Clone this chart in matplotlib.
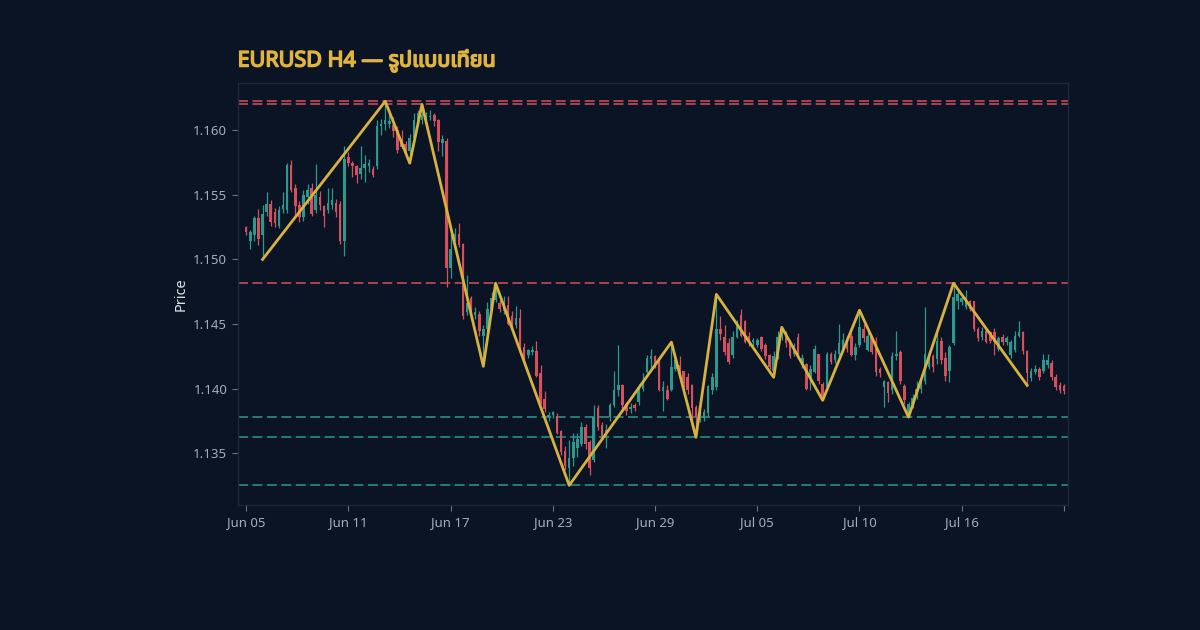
import numpy as np
import matplotlib
matplotlib.use('Agg')
import matplotlib.pyplot as plt
import matplotlib.patheffects as pe
from matplotlib import font_manager

# EURUSD H4 candles, one row per 4h bar (weekend gaps removed)
opens = [
    1.1525, 1.1514, 1.1519, 1.1532, 1.1519, 1.1537, 1.1543, 1.1537, 1.1526, 1.1539,
    1.1538, 1.1573, 1.1555, 1.1542, 1.1533, 1.1548, 1.1555, 1.1538, 1.1548, 1.1541,
    1.1538, 1.1542, 1.1544, 1.1543, 1.1514, 1.1579, 1.1575, 1.1572, 1.1566, 1.1571,
    1.1572, 1.1570, 1.1572, 1.1603, 1.1605, 1.1605, 1.1604, 1.1600, 1.1593, 1.1589,
    1.1584, 1.1594, 1.1606, 1.1608, 1.1610, 1.1610, 1.1612, 1.1608, 1.1590, 1.1592,
    1.1493, 1.1516, 1.1520, 1.1512, 1.1459, 1.1470, 1.1457, 1.1458, 1.1441, 1.1446,
    1.1462, 1.1469, 1.1466, 1.1460, 1.1465, 1.1456, 1.1449, 1.1455, 1.1432, 1.1426,
    1.1428, 1.1429, 1.1412, 1.1392, 1.1378, 1.1380, 1.1379, 1.1367, 1.1352, 1.1339,
    1.1346, 1.1354, 1.1357, 1.1370, 1.1359, 1.1345, 1.1385, 1.1372, 1.1363, 1.1378,
    1.1387, 1.1399, 1.1403, 1.1388, 1.1384, 1.1387, 1.1390, 1.1400, 1.1413, 1.1423,
    1.1425, 1.1421, 1.1398, 1.1399, 1.1399, 1.1415, 1.1418, 1.1414, 1.1409, 1.1403,
    1.1386, 1.1377, 1.1377, 1.1381, 1.1399, 1.1401, 1.1446, 1.1440, 1.1435, 1.1426,
    1.1440, 1.1457, 1.1452, 1.1441, 1.1436, 1.1434, 1.1440, 1.1434, 1.1426, 1.1414,
    1.1424, 1.1440, 1.1444, 1.1436, 1.1427, 1.1440, 1.1418, 1.1419, 1.1408, 1.1413,
    1.1427, 1.1404, 1.1401, 1.1427, 1.1422, 1.1427, 1.1430, 1.1437, 1.1441, 1.1426,
    1.1434, 1.1446, 1.1430, 1.1440, 1.1437, 1.1415, 1.1401, 1.1405, 1.1399, 1.1425,
    1.1428, 1.1402, 1.1381, 1.1388, 1.1394, 1.1400, 1.1406, 1.1417, 1.1425, 1.1423,
    1.1437, 1.1424, 1.1414, 1.1435, 1.1468, 1.1467, 1.1463, 1.1468, 1.1468, 1.1446,
    1.1440, 1.1445, 1.1444, 1.1444, 1.1431, 1.1440, 1.1436, 1.1426, 1.1430, 1.1441,
    1.1444, 1.1429, 1.1408, 1.1413, 1.1415, 1.1414, 1.1418, 1.1420, 1.1409, 1.1403,
    1.1402,
]
highs = [
    1.1526, 1.1523, 1.1534, 1.1539, 1.1542, 1.1552, 1.1546, 1.1540, 1.1541, 1.1552,
    1.1575, 1.1577, 1.1558, 1.1545, 1.1554, 1.1558, 1.1559, 1.1574, 1.1553, 1.1542,
    1.1555, 1.1555, 1.1547, 1.1545, 1.1588, 1.1583, 1.1576, 1.1573, 1.1588, 1.1581,
    1.1578, 1.1572, 1.1608, 1.1609, 1.16224, 1.1614, 1.1610, 1.1603, 1.1600, 1.1592,
    1.1597, 1.1613, 1.1616, 1.1620, 1.1614, 1.1616, 1.1613, 1.1609, 1.1596, 1.1594,
    1.1524, 1.1524, 1.1528, 1.1513, 1.1488, 1.1472, 1.1463, 1.1460, 1.1449, 1.1467,
    1.1475, 1.14816, 1.1469, 1.1472, 1.1472, 1.1460, 1.1464, 1.1462, 1.1435, 1.1431,
    1.1433, 1.1437, 1.1418, 1.1398, 1.1382, 1.1383, 1.1381, 1.1368, 1.1356, 1.1360,
    1.1366, 1.1366, 1.1374, 1.1373, 1.1360, 1.1387, 1.1387, 1.1374, 1.1373, 1.1389,
    1.1414, 1.1434, 1.1404, 1.1390, 1.1389, 1.1389, 1.1404, 1.1412, 1.1426, 1.1431,
    1.1426, 1.1422, 1.1406, 1.1403, 1.1436, 1.1426, 1.1425, 1.1414, 1.1412, 1.1404,
    1.1387, 1.1383, 1.1384, 1.1403, 1.1412, 1.1473, 1.1456, 1.1449, 1.1439, 1.1445,
    1.1453, 1.1462, 1.1453, 1.1444, 1.1439, 1.1439, 1.1441, 1.1435, 1.1427, 1.1429,
    1.1445, 1.14475, 1.1445, 1.1438, 1.1435, 1.1443, 1.1427, 1.1420, 1.1418, 1.1434,
    1.1427, 1.1405, 1.1428, 1.1428, 1.1430, 1.1450, 1.1443, 1.1441, 1.1443, 1.1435,
    1.14607, 1.1450, 1.1445, 1.1441, 1.1440, 1.1417, 1.1407, 1.1406, 1.1428, 1.1445,
    1.1430, 1.1404, 1.1390, 1.1396, 1.1406, 1.1408, 1.1463, 1.1429, 1.1427, 1.1443,
    1.1440, 1.1428, 1.1434, 1.14816, 1.1476, 1.1474, 1.1476, 1.1469, 1.1468, 1.1448,
    1.1448, 1.1447, 1.1445, 1.1447, 1.1441, 1.1442, 1.1441, 1.1438, 1.1445, 1.1452,
    1.1445, 1.1430, 1.1416, 1.1418, 1.1417, 1.1427, 1.1427, 1.1422, 1.1411, 1.1405,
    1.1404,
]
lows = [
    1.1519, 1.1508, 1.1514, 1.1511, 1.1500, 1.1534, 1.1526, 1.1525, 1.1524, 1.1536,
    1.1536, 1.1552, 1.1534, 1.1529, 1.1530, 1.1543, 1.1534, 1.1536, 1.1538, 1.1525,
    1.1536, 1.1539, 1.1533, 1.1512, 1.1503, 1.1572, 1.1564, 1.1559, 1.1562, 1.1560,
    1.1568, 1.1564, 1.1570, 1.1596, 1.1600, 1.1602, 1.1595, 1.1582, 1.1586, 1.1582,
    1.15745, 1.1592, 1.1603, 1.1605, 1.1607, 1.1608, 1.1603, 1.1584, 1.1580, 1.1479,
    1.1486, 1.1514, 1.1510, 1.1454, 1.1457, 1.1454, 1.1454, 1.1441, 1.14173, 1.1441,
    1.1461, 1.1467, 1.1459, 1.1458, 1.1449, 1.1446, 1.1447, 1.1431, 1.1420, 1.1424,
    1.1426, 1.1409, 1.1388, 1.1382, 1.1375, 1.1377, 1.1365, 1.1349, 1.1337, 1.13252,
    1.1340, 1.1347, 1.1356, 1.1353, 1.1333, 1.1343, 1.1368, 1.1361, 1.1354, 1.1375,
    1.1386, 1.1394, 1.1385, 1.1380, 1.1381, 1.1383, 1.1387, 1.1398, 1.1412, 1.1416,
    1.1416, 1.1398, 1.1383, 1.1391, 1.1398, 1.1414, 1.1410, 1.1401, 1.1396, 1.1373,
    1.13624, 1.1374, 1.1375, 1.1379, 1.1396, 1.1399, 1.1438, 1.1426, 1.1419, 1.1424,
    1.1439, 1.1440, 1.1435, 1.1433, 1.1433, 1.1432, 1.1429, 1.1423, 1.1415, 1.14088,
    1.1423, 1.1438, 1.1432, 1.1424, 1.1425, 1.1423, 1.1416, 1.1399, 1.1399, 1.1412,
    1.1404, 1.1391, 1.1399, 1.1419, 1.1420, 1.1425, 1.1429, 1.1428, 1.1425, 1.1422,
    1.1432, 1.1436, 1.1429, 1.1427, 1.1410, 1.1409, 1.1386, 1.1390, 1.1396, 1.1422,
    1.1404, 1.1388, 1.1378, 1.1385, 1.1392, 1.1397, 1.1404, 1.1415, 1.1413, 1.1419,
    1.1419, 1.1406, 1.1405, 1.1434, 1.1462, 1.1465, 1.1462, 1.1460, 1.1445, 1.1437,
    1.1438, 1.1435, 1.1435, 1.1426, 1.1429, 1.1434, 1.1434, 1.1424, 1.1428, 1.1440,
    1.1427, 1.14026, 1.1406, 1.1411, 1.1407, 1.1412, 1.1416, 1.1407, 1.1399, 1.1397,
    1.1396,
]
closes = [
    1.1521, 1.1521, 1.1532, 1.1516, 1.1535, 1.1543, 1.1529, 1.1528, 1.1538, 1.1542,
    1.1573, 1.1554, 1.1541, 1.1533, 1.1550, 1.1554, 1.1535, 1.1550, 1.1542, 1.1534,
    1.1544, 1.1546, 1.1537, 1.1514, 1.1578, 1.1575, 1.1572, 1.1565, 1.1571, 1.1574,
    1.1575, 1.1565, 1.1603, 1.1605, 1.1608, 1.1607, 1.1599, 1.1585, 1.1587, 1.1584,
    1.1594, 1.1608, 1.1613, 1.1612, 1.1612, 1.1611, 1.1607, 1.1591, 1.1593, 1.1493,
    1.1508, 1.1520, 1.1511, 1.1456, 1.1466, 1.1462, 1.1459, 1.1445, 1.1446, 1.1462,
    1.1470, 1.1477, 1.1462, 1.1464, 1.1450, 1.1449, 1.1455, 1.1434, 1.1423, 1.1430,
    1.1430, 1.1410, 1.1389, 1.1384, 1.1380, 1.1382, 1.1366, 1.1351, 1.1340, 1.1346,
    1.1359, 1.1361, 1.1370, 1.1357, 1.1339, 1.1378, 1.1370, 1.1363, 1.1368, 1.1387,
    1.1399, 1.1403, 1.1387, 1.1383, 1.1386, 1.1385, 1.1401, 1.1406, 1.1424, 1.1425,
    1.1418, 1.1399, 1.1401, 1.1392, 1.1417, 1.1422, 1.1412, 1.1404, 1.1399, 1.1385,
    1.1378, 1.1381, 1.1382, 1.1402, 1.1409, 1.1446, 1.1442, 1.1428, 1.1421, 1.1440,
    1.1450, 1.1441, 1.1436, 1.1435, 1.1438, 1.1438, 1.1431, 1.1425, 1.1417, 1.1425,
    1.1440, 1.1445, 1.1435, 1.1425, 1.1432, 1.1424, 1.1424, 1.1400, 1.1415, 1.1431,
    1.1406, 1.1394, 1.1427, 1.1421, 1.1427, 1.1435, 1.1438, 1.1431, 1.1426, 1.1432,
    1.1448, 1.1439, 1.1441, 1.1428, 1.1413, 1.1412, 1.1406, 1.1397, 1.1425, 1.1427,
    1.1406, 1.1391, 1.1388, 1.1393, 1.1400, 1.1403, 1.1427, 1.1425, 1.1417, 1.1437,
    1.1422, 1.1410, 1.1432, 1.1471, 1.1473, 1.1470, 1.1471, 1.1462, 1.1446, 1.1439,
    1.1445, 1.1436, 1.1437, 1.1436, 1.1439, 1.1436, 1.1439, 1.1436, 1.1441, 1.1444,
    1.1429, 1.1412, 1.1414, 1.1415, 1.1409, 1.1422, 1.1422, 1.1409, 1.1401, 1.1399,
    1.1398,
]

# zigzag swing points (bar index, H = swing high, L = swing low)
pivot_idx = [4, 34, 40, 43, 58, 61, 79, 104, 110, 115, 129, 131, 141, 150, 162, 173, 191]
pivot_kind = 'LHLHLHLHLHLHLHLHL'

resistance = [1.16224, 1.1620, 1.14816]
support = [1.1378, 1.13624, 1.13252]

date_labels = ['Jun 05', 'Jun 11', 'Jun 17', 'Jun 23', 'Jun 29', 'Jul 05', 'Jul 10', 'Jul 16', '']

BG = '#0b1424'
UP = '#2a9a8e'
DOWN = '#d64f5c'
GOLD = '#d8b23e'
TITLE = '#e0b43f'

# latin family first, a Thai family behind it for the Thai letters
installed = {f.name for f in font_manager.fontManager.ttflist}
thai = [n for n in ['Noto Sans Thai', 'Noto Sans Thai Looped', 'Loma', 'Garuda',
                    'Norasi', 'Sarabun', 'Kanit', 'Tlwg Typo'] if n in installed]
plt.rcParams['font.family'] = ['Noto Sans'] + thai + ['DejaVu Sans']

o = np.array(opens)
c = np.array(closes)
h = np.maximum(np.array(highs), np.maximum(o, c))
l = np.minimum(np.array(lows), np.minimum(o, c))
x = np.arange(len(c))
up = c >= o
colors = np.where(up, UP, DOWN)

fig = plt.figure(figsize=(12, 6.3), dpi=100, facecolor=BG)
ax = fig.add_axes([0.198, 0.198, 0.692, 0.67], facecolor=BG)

# support / resistance levels
for lv in resistance:
    ax.axhline(lv, color=DOWN, lw=1.3, ls=(0, (5.5, 2.5)), alpha=0.85, zorder=1)
for lv in support:
    ax.axhline(lv, color=UP, lw=1.3, ls=(0, (5.5, 2.5)), alpha=0.85, zorder=1)

# candles
ax.vlines(x, l, h, colors=colors, lw=0.9, zorder=2)
body = np.maximum(np.abs(c - o), 0.00003)
ax.bar(x, body, bottom=np.minimum(o, c), width=0.62, color=colors, lw=0, zorder=3)

# zigzag
zz_y = [h[i] if k == 'H' else l[i] for i, k in zip(pivot_idx, pivot_kind)]
ax.plot(pivot_idx, zz_y, color=GOLD, lw=2, zorder=4)

ax.set_xlim(-2.1, 201)
ax.set_ylim(1.13098, 1.16364)

ax.set_xticks(np.linspace(0, 200, len(date_labels)))
ax.set_xticklabels(date_labels)
yt = np.arange(1.135, 1.1601, 0.005)
ax.set_yticks(yt)
ax.set_yticklabels([f'{v:.3f}' for v in yt])

ax.tick_params(colors='#6b7687', labelcolor='#a3adbb', labelsize=9.5, length=4, width=0.8)
for s in ax.spines.values():
    s.set_color('#1d2838')
    s.set_linewidth(1)
ax.set_ylabel('Price', color='#dde2e9', fontsize=10.5, labelpad=3)

# the fonts here may have no bold face, so thicken the title with a stroke
t = ax.set_title('EURUSD H4 — รูปแบบเทียน', loc='left', color=TITLE,
                 fontsize=15.5, fontweight='bold', pad=12)
t.set_path_effects([pe.withStroke(linewidth=1.1, foreground=TITLE)])

fig.savefig('out.png', dpi=100, facecolor=BG)
